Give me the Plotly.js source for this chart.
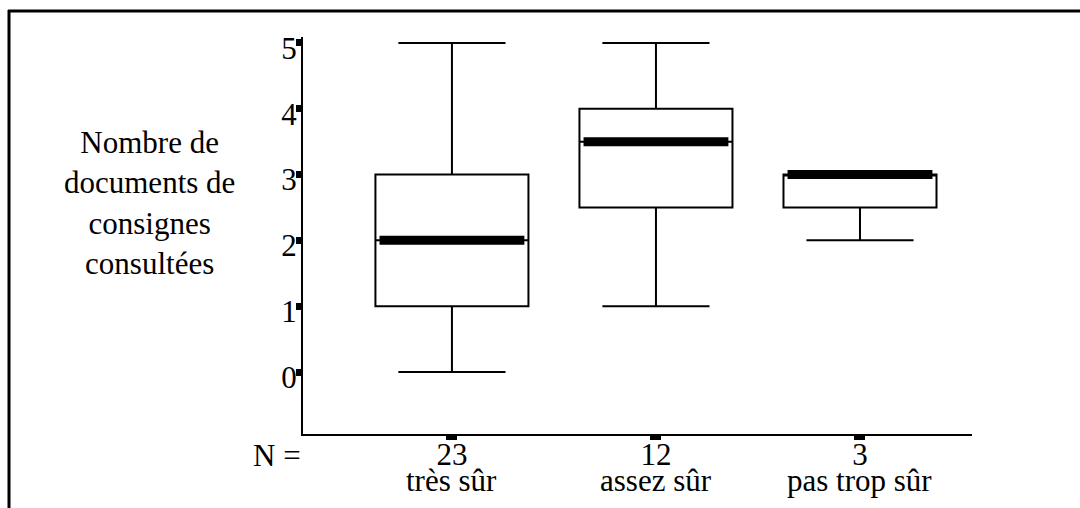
<!DOCTYPE html>
<html>
<head>
<meta charset="utf-8">
<script src="https://cdn.plot.ly/plotly-3.0.1.min.js"></script>
<style>
html,body{margin:0;padding:0;background:#fff;}
#chart{width:1080px;height:508px;}
</style>
</head>
<body>
<div id="chart"></div>
<script>
// ---- data ----
const categories = ['très sûr', 'assez sûr', 'pas trop sûr'];
const counts = ['23', '12', '3'];
const lowerWhisker = [0, 1, 2];
const q1 = [1, 2.5, 2.5];
const median = [2, 3.5, 3];
const q3 = [3, 4, 3];
const upperWhisker = [5, 5, 3];
const yTicks = [0, 1, 2, 3, 4, 5];
const yTitleLines = ['Nombre de', 'documents de', 'consignes', 'consultées'];
const nLabel = 'N =';

const pos = categories.map((c, i) => i);
const FONT = 'Liberation Serif, Times New Roman, serif';

const boxTrace = {
  type: 'box',
  x: pos,
  q1: q1, median: median, q3: q3,
  lowerfence: lowerWhisker, upperfence: upperWhisker,
  boxpoints: false,
  fillcolor: '#ffffff',
  line: {color: '#000000', width: 2},
  width: 0.75,
  whiskerwidth: 0.7,
  hoverinfo: 'skip',
  showlegend: false
};
// thick median band drawn as a degenerate box at the median
const medianTrace = {
  type: 'box',
  x: pos,
  q1: median, median: median, q3: median,
  lowerfence: median, upperfence: median,
  boxpoints: false,
  fillcolor: '#000000',
  line: {color: '#000000', width: 9},
  width: 0.71,
  whiskerwidth: 0,
  hoverinfo: 'skip',
  showlegend: false
};

const annotations = [];
annotations.push({
  xref: 'paper', yref: 'paper', x: -0.2287, y: 0.582,
  xanchor: 'center', yanchor: 'middle', showarrow: false,
  text: yTitleLines.join('<br>'), align: 'center',
  font: {family: FONT, size: 31, color: '#000'}
});
annotations.push({
  xref: 'paper', yref: 'paper', x: -0.039, y: -0.053,
  xanchor: 'center', yanchor: 'middle', showarrow: false,
  text: nLabel, font: {family: FONT, size: 31, color: '#000'}
});
categories.forEach((c, i) => {
  annotations.push({
    xref: 'x', yref: 'paper', x: pos[i], y: -0.118,
    xanchor: 'center', yanchor: 'middle', showarrow: false,
    text: c, font: {family: FONT, size: 31, color: '#000'}
  });
});

const layout = {
  width: 1080, height: 508,
  margin: {l: 303, r: 108, t: 37, b: 74, pad: 0},
  paper_bgcolor: '#ffffff', plot_bgcolor: '#ffffff',
  showlegend: false,
  boxmode: 'overlay',
  font: {family: FONT, size: 31, color: '#000'},
  xaxis: {
    range: [-0.730, 2.549],
    tickvals: pos, ticktext: counts,
    showgrid: false, zeroline: false,
    showline: true, linecolor: '#000', linewidth: 2,
    ticks: 'outside', ticklen: 4, tickwidth: 11, tickcolor: '#000',
    ticklabelstandoff: -12,
    tickfont: {family: FONT, size: 31, color: '#000'},
    fixedrange: true
  },
  yaxis: {
    range: [-0.942, 5.09],
    tickvals: yTicks,
    showgrid: false, zeroline: false,
    showline: true, linecolor: '#000', linewidth: 2,
    ticks: 'outside', ticklen: 5, tickwidth: 7, tickcolor: '#000',
    ticklabelstandoff: -7,
    ticklabelshift: 5,
    tickfont: {family: FONT, size: 31, color: '#000'},
    fixedrange: true
  },
  annotations: annotations,
  shapes: [
    {type: 'line', xref: 'paper', yref: 'paper',
     x0: (8 - 303) / 669, x1: (1080 - 303) / 669,
     y0: (434 - 11) / 397, y1: (434 - 11) / 397,
     line: {color: '#000', width: 3}},
    {type: 'line', xref: 'paper', yref: 'paper',
     x0: (9 - 303) / 669, x1: (9 - 303) / 669,
     y0: (434 - 10) / 397, y1: (434 - 510) / 397,
     line: {color: '#000', width: 3}}
  ]
};

Plotly.newPlot('chart', [boxTrace, medianTrace], layout, {displayModeBar: false, staticPlot: true});
</script>
</body>
</html>
